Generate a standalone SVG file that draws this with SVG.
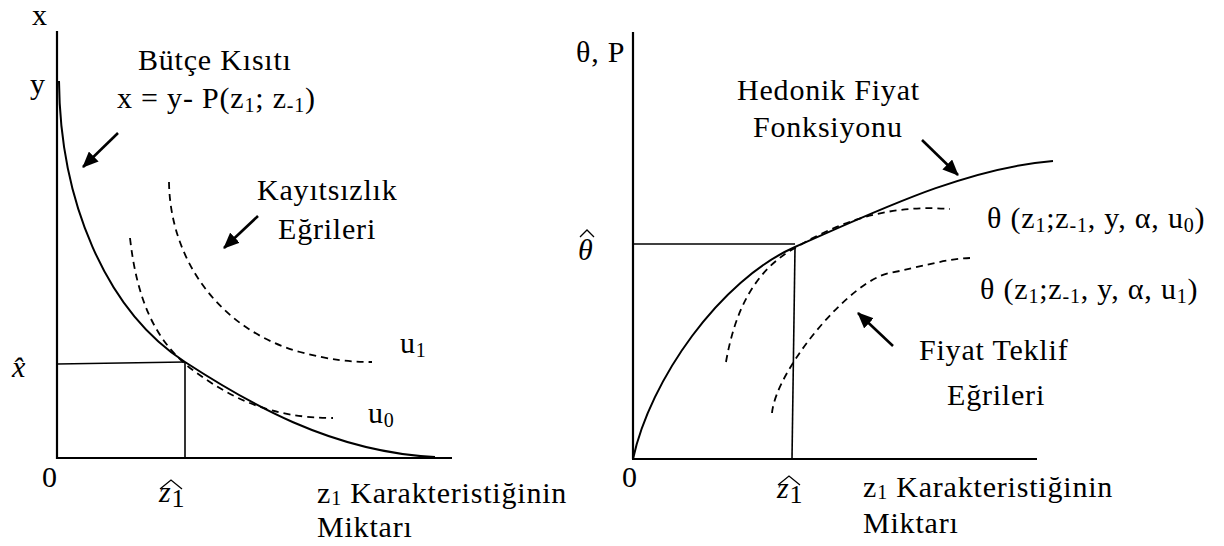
<svg xmlns="http://www.w3.org/2000/svg" width="1224" height="546" viewBox="0 0 1224 546" font-family="Liberation Serif, serif">
<defs>
<style>
text{font-family:"Liberation Serif",serif;font-size:30px;fill:#000;letter-spacing:0.8px}
.it{font-style:italic}
.sub{font-size:20px}
.axis{stroke:#000;stroke-width:2.2;fill:none}
.curve{stroke:#000;stroke-width:2;fill:none}
.thin{stroke:#000;stroke-width:1.6;fill:none}
.hat{stroke:#000;stroke-width:1.3;fill:none}
.dash{stroke:#000;stroke-width:1.8;fill:none;stroke-dasharray:7 5}
.arr{stroke:#000;stroke-width:2.6;fill:none;marker-end:url(#ah)}
</style>
<marker id="ah" markerUnits="userSpaceOnUse" viewBox="0 0 16 14" markerWidth="16" markerHeight="14" refX="15" refY="7" orient="auto">
<path d="M0,0 L16,7 L0,14 z" fill="#000"/>
</marker>
</defs>
<rect width="1224" height="546" fill="#fff"/>

<g id="left-panel">
<g id="left-axes">
<line class="axis" x1="57" y1="31" x2="57" y2="459"/>
<line class="axis" x1="56" y1="458" x2="452" y2="458"/>
</g>
<g id="budget-constraint">
<path class="curve" d="M59,81 C60,200 105,310 185,362 C245,401 330,452 435,457"/>
</g>
<g id="indifference-curves">
<path class="dash" d="M130,238 C137,300 155,340 190,368 C230,398 270,418 333,418"/>
<path class="dash" d="M169,182 C170,260 220,330 300,352 C330,360 350,362 372,362"/>
</g>
<g id="left-guides">
<line class="thin" x1="57" y1="364" x2="185" y2="362"/>
<line class="thin" x1="185" y1="362" x2="185" y2="458"/>
</g>
<g id="left-labels">
<text x="32" y="25">x</text>
<text x="30" y="94">y</text>
<text x="138" y="70">Bütçe Kısıtı</text>
<text x="117" y="108">x = y- P(z<tspan class="sub" dy="4">1</tspan><tspan dy="-4">; z</tspan><tspan class="sub" dy="4">-1</tspan><tspan dy="-4">)</tspan></text>
<text x="257" y="200">Kayıtsızlık</text>
<text x="278" y="239">Eğrileri</text>
<text x="400" y="353">u<tspan class="sub" dy="4">1</tspan></text>
<text x="368" y="423">u<tspan class="sub" dy="4">0</tspan></text>
<text class="it" x="12" y="377">x̂</text>
<text x="42" y="487">0</text>
<text class="it" x="159" y="502">z<tspan style="font-style:normal;font-size:26px" dy="5">1</tspan></text>
<polyline class="hat" points="160,489 171,480 182,489"/>
<text x="317" y="503">z<tspan class="sub" dy="2">1</tspan><tspan dy="-2"> Karakteristiğinin</tspan></text>
<text x="317" y="537">Miktarı</text>
</g>
</g>

<g id="right-panel">
<g id="right-axes">
<line class="axis" x1="633" y1="32" x2="633" y2="459"/>
<line class="axis" x1="632" y1="459" x2="1037" y2="459"/>
</g>
<g id="hedonic-price-function">
<path class="curve" d="M633,459 C650,380 720,280 795,247 C875,212 965,168 1053,161"/>
</g>
<g id="bid-curves">
<path class="dash" d="M726,362 C735,310 755,270 795,248 C850,215 900,205 950,209"/>
<path class="dash" d="M772,413 C776,370 850,280 890,273 C920,267 945,259 970,258"/>
</g>
<g id="right-guides">
<line class="thin" x1="633" y1="244" x2="795" y2="244"/>
<line class="thin" x1="795" y1="248" x2="792" y2="459"/>
</g>
<g id="right-labels">
<text x="576" y="62">θ, P</text>
<text x="737" y="100">Hedonik Fiyat</text>
<text x="753" y="137">Fonksiyonu</text>
<text x="987" y="228">θ (z<tspan class="sub" dy="4">1</tspan><tspan dy="-4">;z</tspan><tspan class="sub" dy="4">-1</tspan><tspan dy="-4">, y, α, u</tspan><tspan class="sub" dy="4">0</tspan><tspan dy="-4">)</tspan></text>
<text x="980" y="299">θ (z<tspan class="sub" dy="4">1</tspan><tspan dy="-4">;z</tspan><tspan class="sub" dy="4">-1</tspan><tspan dy="-4">, y, α, u</tspan><tspan class="sub" dy="4">1</tspan><tspan dy="-4">)</tspan></text>
<text x="919" y="360">Fiyat Teklif</text>
<text x="947" y="405">Eğrileri</text>
<text class="it" x="578" y="260">θ</text>
<polyline class="hat" points="580,237 587,230 594,237"/>
<text x="622" y="487">0</text>
<text class="it" x="777" y="498">z<tspan style="font-style:normal;font-size:26px" dy="5">1</tspan></text>
<polyline class="hat" points="778,485 789,476 800,485"/>
<text x="863" y="497">z<tspan class="sub" dy="2">1</tspan><tspan dy="-2"> Karakteristiğinin</tspan></text>
<text x="863" y="533">Miktarı</text>
</g>
</g>

<g id="connectors">
<line class="arr" x1="118" y1="133" x2="83" y2="167"/>
<line class="arr" x1="258" y1="216" x2="224" y2="248"/>
<line class="arr" x1="922" y1="140" x2="958" y2="175"/>
<line class="arr" x1="893" y1="346" x2="858" y2="313"/>
</g>
</svg>
